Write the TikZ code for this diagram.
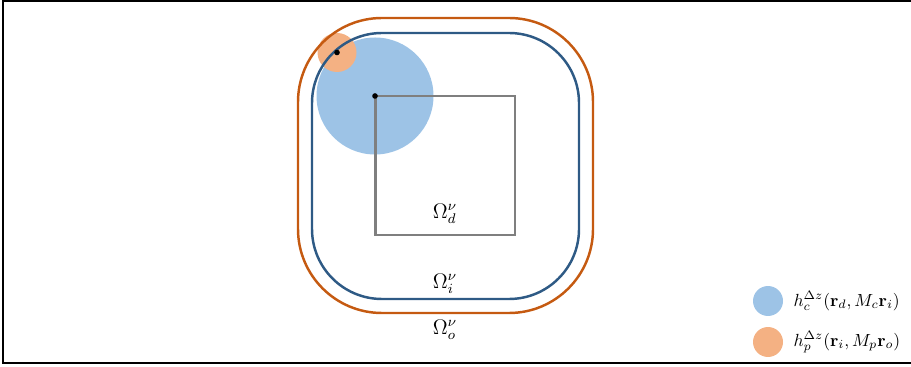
\documentclass[tikz,border=0pt]{standalone}
\usepackage{tikz}
\usetikzlibrary{positioning}
\definecolor{outerc}{HTML}{C55A11}
\definecolor{innerc}{HTML}{2E5A85}
\definecolor{domc}{HTML}{7F7F7F}
\definecolor{kernc}{HTML}{9DC3E6}
\definecolor{kernp}{HTML}{F4B183}
\tikzset{
  bound/.style={line width=1.4pt},
  dotpt/.style={circle,fill=black,inner sep=0pt,minimum size=3.2pt},
  legdot/.style={circle,inner sep=0pt,minimum size=0.6cm},
  domlabel/.style={font=\large}
}
\begin{document}
\begin{tikzpicture}[x=0.02cm,y=-0.02cm]
\useasboundingbox (0,0) rectangle (911,367);
% frame
\draw[line width=0.8pt] (911,1) -- (3,1) -- (3,363) -- (911,363);
% kernels
\fill[kernc] (375,96) circle (58.5);
\fill[kernp] (337,52.5) circle (19.5);
% domains
\draw[bound,outerc,rounded corners=1.68cm] (298,18) rectangle (593,313);
\draw[bound,innerc,rounded corners=1.4cm] (312,33) rectangle (579,299);
\draw[bound,domc] (375.5,96) rectangle (515,235);
\coordinate (D) at (375,96); \coordinate (I) at (337,52.5);
\node[dotpt] at (D) {}; \node[dotpt] at (I) {};
\node[domlabel] (Ld) at (445,214) {$\Omega_d^{\nu}$};
\node[domlabel] (Li) at (445,284) {$\Omega_i^{\nu}$};
\node[domlabel] (Lo) at (445,330) {$\Omega_o^{\nu}$};
% legend
\node[legdot,fill=kernc] (c) at (768,301) {};
\node[legdot,fill=kernp] (p) at (768,342) {};
\node[right=0.08cm of c] {$h_c^{\Delta z}(\mathbf{r}_d, M_c\mathbf{r}_i)$};
\node[right=0.08cm of p] {$h_p^{\Delta z}(\mathbf{r}_i, M_p\mathbf{r}_o)$};
\end{tikzpicture}
\end{document}
